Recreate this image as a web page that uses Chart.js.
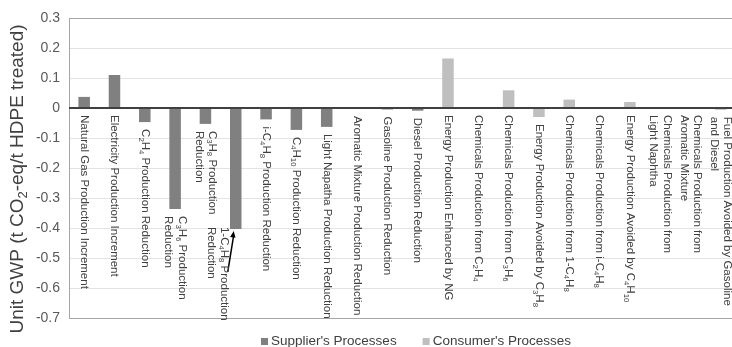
<!DOCTYPE html>
<html>
<head>
<meta charset="utf-8">
<script src="https://cdn.jsdelivr.net/npm/chart.js@4/dist/chart.umd.min.js"></script>
<style>
  html, body { margin: 0; padding: 0; background: #fff; overflow: hidden; width: 732px; height: 347px; }
  #wrap { width: 760px; height: 347px; }
</style>
</head>
<body>
<div id="wrap"><canvas id="myChart" width="760" height="347"></canvas></div>
<script>
// categories, "_n" marks a subscript, "\n" a line break
const categories = [
  "Natural Gas Production Increment",
  "Electricity Production Increment",
  "C_2H_4 Production Reduction",
  "C_3H_6 Production\nReduction",
  "C_3H_8 Production\nReduction",
  "1-C_4H_8 Production\nReduction",
  "i-C_4H_8 Production Reduction",
  "C_4H_10 Production Reduction",
  "Light Napatha Production Reduction",
  "Aromatic Mixture Production Reduction",
  "Gasoline Production Reduction",
  "Diesel Production Reduction",
  "Energy Production Enhanced by NG",
  "Chemicals Production from C_2H_4",
  "Chemicals Production from C_3H_6",
  "Energy Production Avoided by C_3H_8",
  "Chemicals Production from 1-C_4H_8",
  "Chemicals Production from i-C_4H_8",
  "Energy Production Avoided by C_4H_10",
  "Chemicals Production from\nLight Naphtha",
  "Chemicals Production from\nAromatic Mixture",
  "Fuel Production Avoided by Gasoline\nand Diesel"
];

const supplierValues = [0.037, 0.11, -0.047, -0.337, -0.053, -0.403, -0.038, -0.073, -0.063, -0.003, -0.005, -0.009,
  null, null, null, null, null, null, null, null, null, null];
const consumerValues = [null, null, null, null, null, null, null, null, null, null, null, null,
  0.165, 0, 0.059, -0.030, 0.028, 0, 0.020, 0, 0, -0.006];

const seriesNames = ["Supplier's Processes", "Consumer's Processes"];
const seriesColors = ["#808080", "#bfbfbf"];

const yMin = -0.7, yMax = 0.3, yStep = 0.1;
const yTitle = "Unit GWP (t CO_2-eq/t HDPE treated)";

const arrowIndex = 5; // label moved aside with an arrow to its bar
const FONT = "'Liberation Sans', Arial, sans-serif";

// draw text with _n subscripts starting at (x0,0) in the current frame
function richText(ctx, text, size, draw = true) {
  const parts = text.split(/_(\d+)/);
  let x = 0;
  parts.forEach((p, k) => {
    if (!p) return;
    const sub = k % 2 === 1;
    ctx.font = (sub ? size * 0.68 : size) + "px " + FONT;
    if (draw) ctx.fillText(p, x, sub ? size * 0.3 : 0);
    x += ctx.measureText(p).width;
  });
  return x;
}

const labelPlugin = {
  id: 'barLabels',
  afterDatasetsDraw(chart) {
    const ctx = chart.ctx, xs = chart.scales.x, ys = chart.scales.y;
    const area = chart.chartArea;
    const zero = ys.getPixelForValue(0);
    ctx.save();
    ctx.strokeStyle = '#404040';
    ctx.lineWidth = 2;
    ctx.beginPath();
    ctx.moveTo(area.left, zero);
    ctx.lineTo(area.right, zero);
    ctx.stroke();

    const size = 11.5, lh = 13.5;
    ctx.fillStyle = '#404040';
    ctx.textBaseline = 'middle';
    ctx.textAlign = 'left';
    categories.forEach((cat, i) => {
      const v = supplierValues[i] ?? consumerValues[i] ?? 0;
      const barX = xs.getPixelForValue(i);
      const barEnd = ys.getPixelForValue(v);
      let cx = barX;
      let top = Math.max(zero, barEnd) + 7;
      if (i === arrowIndex) {
        cx = barX - 18;
        top = barEnd - 2;
        // arrow from the label up to the bar
        const tx = barX - 2, ty = barEnd + 2, fx = barX - 8, fy = barEnd + 43;
        ctx.strokeStyle = '#000';
        ctx.lineWidth = 1.5;
        ctx.beginPath();
        ctx.moveTo(fx, fy);
        ctx.lineTo(tx, ty + 4);
        ctx.stroke();
        const ang = Math.atan2(ty - fy, tx - fx);
        ctx.fillStyle = '#000';
        ctx.beginPath();
        ctx.moveTo(tx, ty);
        ctx.lineTo(tx - 7 * Math.cos(ang - 0.4), ty - 7 * Math.sin(ang - 0.4));
        ctx.lineTo(tx - 7 * Math.cos(ang + 0.4), ty - 7 * Math.sin(ang + 0.4));
        ctx.closePath();
        ctx.fill();
        ctx.fillStyle = '#404040';
      }
      const lines = cat.split("\n");
      lines.forEach((ln, j) => {
        const off = (j - (lines.length - 1) / 2) * lh;
        ctx.save();
        ctx.translate(cx - off, top);
        ctx.rotate(Math.PI / 2);
        richText(ctx, ln, size);
        ctx.restore();
      });
    });
    ctx.restore();
  },
  afterDraw(chart) {
    const ctx = chart.ctx;
    ctx.save();
    // y axis title
    ctx.fillStyle = '#404040';
    ctx.textBaseline = 'middle';
    ctx.textAlign = 'left';
    const tSize = 19;
    const tw = richText(ctx, yTitle, tSize, false);
    ctx.save();
    ctx.translate(18, 179 + tw / 2);
    ctx.rotate(-Math.PI / 2);
    richText(ctx, yTitle, tSize);
    ctx.restore();

    // legend
    ctx.font = "13.5px " + FONT;
    const box = 7, gap = 3, spacing = 26, cy = 341.5;
    const widths = seriesNames.map(n => ctx.measureText(n).width);
    const total = widths.reduce((a, w) => a + box + gap + w, 0) + spacing;
    let x = 416 - total / 2;
    seriesNames.forEach((n, k) => {
      ctx.fillStyle = seriesColors[k];
      ctx.fillRect(x, cy - box / 2, box, box);
      x += box + gap;
      ctx.fillStyle = '#404040';
      ctx.fillText(n, x, cy);
      x += widths[k] + spacing;
    });
    ctx.restore();
  }
};

new Chart("myChart", {
  type: "bar",
  data: {
    labels: categories,
    datasets: [
      { label: seriesNames[0], data: supplierValues, backgroundColor: seriesColors[0] },
      { label: seriesNames[1], data: consumerValues, backgroundColor: seriesColors[1] }
    ]
  },
  options: {
    responsive: false,
    animation: false,
    devicePixelRatio: 1,
    layout: { padding: { left: 0, right: 24, top: 18, bottom: 29 } },
    datasets: { bar: { categoryPercentage: 1, barPercentage: 0.38 } },
    plugins: {
      legend: { display: false },
      tooltip: { enabled: false }
    },
    scales: {
      x: {
        stacked: true,
        ticks: { display: false },
        grid: { display: false },
        border: { display: true, color: '#a6a6a6' },
        afterFit(s) { s.height = 0; }
      },
      y: {
        stacked: true,
        min: yMin,
        max: yMax,
        ticks: {
          stepSize: yStep,
          padding: 9,
          color: '#595959',
          font: { family: FONT, size: 14 },
          callback: v => {
            const r = Math.round(v * 10) / 10;
            return r === 0 ? "0" : r.toFixed(1);
          }
        },
        grid: {
          drawTicks: false,
          color: c => {
            const r = Math.round(c.tick.value * 10) / 10;
            return (r === yMax || r === yMin) ? '#a6a6a6' : '#e3e3e3';
          }
        },
        border: { display: true, color: '#a6a6a6' },
        afterFit(s) { s.width = 69; }
      }
    }
  },
  plugins: [labelPlugin]
});
</script>
</body>
</html>
